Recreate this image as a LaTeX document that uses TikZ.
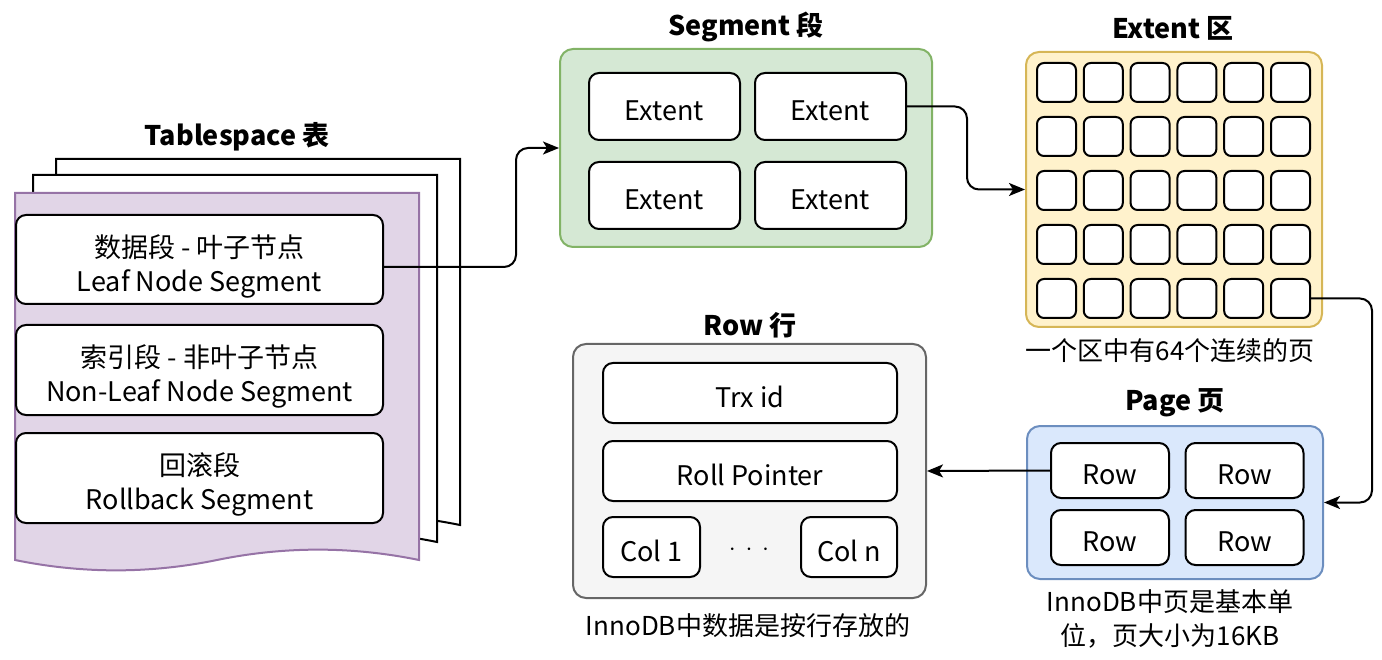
\documentclass[tikz,border=0pt]{standalone}
\usepackage{fontspec}
\setmainfont{Noto Sans CJK SC}
\usetikzlibrary{arrows.meta,calc}
\definecolor{tsfill}{HTML}{E1D5E7}
\definecolor{tsdraw}{HTML}{9673A6}
\definecolor{sgfill}{HTML}{D5E8D4}
\definecolor{sgdraw}{HTML}{82B366}
\definecolor{exfill}{HTML}{FFF2CC}
\definecolor{exdraw}{HTML}{D6B656}
\definecolor{pgfill}{HTML}{DAE8FC}
\definecolor{pgdraw}{HTML}{6C8EBF}
\definecolor{rwfill}{HTML}{F5F5F5}
\definecolor{rwdraw}{HTML}{666666}
\newcommand{\twolines}[2]{\raisebox{-8pt}[\height][\depth]{\begin{tabular}{@{}c@{}}#1\\#2\end{tabular}}}
\newcommand{\lowtext}[1]{\raisebox{-4pt}[\height][\depth]{#1}}
\tikzset{
  x=1pt, y=-1pt,
  box/.style={draw=black, line width=2pt, fill=white, rounded corners=10pt,
    align=center, inner sep=0pt, font=\fontsize{27}{34}\selectfont},
  cell/.style={draw=black, line width=2pt, fill=white, rounded corners=7pt,
    minimum width=39pt, minimum height=39pt, inner sep=0pt},
  group/.style={line width=2pt, rounded corners=13pt, inner sep=0pt},
  title/.style={font=\fontsize{27}{30}\selectfont\bfseries, inner sep=0pt},
  caption/.style={font=\fontsize{26}{34}\selectfont, align=center, inner sep=0pt},
  conn/.style={line width=2pt, rounded corners=12pt,
    -{Stealth[length=16pt,width=13pt,inset=4pt]}},
}
\begin{document}
\begin{tikzpicture}
\useasboundingbox (0,0) rectangle (1382,660);
% Tablespace pages
\draw[line width=2pt, fill=white] (56,159) -- (460,159) -- (460,525)
  .. controls (392.7,511.2) and (325.3,511.2) .. (258,525)
  .. controls (190.7,538.8) and (123.3,538.8) .. (56,525) -- cycle;
\draw[line width=2pt, fill=white] (33,175) -- (437,175) -- (437,542)
  .. controls (369.7,528.2) and (302.3,528.2) .. (235,542)
  .. controls (167.7,555.8) and (100.3,555.8) .. (33,542) -- cycle;
\draw[line width=2pt, draw=tsdraw, fill=tsfill] (15,193) -- (419,193) -- (419,560)
  .. controls (351.7,546.2) and (284.3,546.2) .. (217,560)
  .. controls (149.7,573.8) and (82.3,573.8) .. (15,560) -- cycle;
\node[title] (tstitle) at (237,137) {Tablespace 表};
\node[box, minimum width=367pt, minimum height=89pt] (leaf) at (199.5,259.5)
  {\twolines{数据段 - 叶子节点}{Leaf Node Segment}};
\node[box, minimum width=367pt, minimum height=90pt] (nonleaf) at (199.5,370)
  {\twolines{索引段 - 非叶子节点}{Non-Leaf Node Segment}};
\node[box, minimum width=367pt, minimum height=90pt] (rollback) at (199.5,478)
  {\twolines{回滚段}{Rollback Segment}};
% Segment
\node[title] (sgtitle) at (746,27) {Segment 段};
\node[group, draw=sgdraw, fill=sgfill, minimum width=372pt, minimum height=198pt] (seg) at (746,148) {};
\node[box, minimum width=151pt, minimum height=67pt] (ext1) at (664.5,106.5) {\lowtext{Extent}};
\node[box, minimum width=151pt, minimum height=67pt] (ext2) at (830.5,106.5) {\lowtext{Extent}};
\node[box, minimum width=151pt, minimum height=67pt] (ext3) at (664.5,195.5) {\lowtext{Extent}};
\node[box, minimum width=151pt, minimum height=67pt] (ext4) at (830.5,195.5) {\lowtext{Extent}};
% Extent grid
\node[title] (extitle) at (1173,28) {Extent 区};
\node[group, draw=exdraw, fill=exfill, minimum width=296pt, minimum height=275pt] (grid) at (1174,189.5) {};
\foreach \i in {0,...,5}{
  \foreach \j in {0,...,4}{
    \node[cell] (c\i\j) at ({1056.5+46.8*\i},{82.5+54*\j}) {};
  }
}
\node[caption] (excap) at (1170,351) {一个区中有64个连续的页};
% Page
\node[title] (pgtitle) at (1175,403) {Page 页};
\node[group, draw=pgdraw, fill=pgfill, minimum width=296pt, minimum height=153pt] (page) at (1175,502.5) {};
\node[box, minimum width=118pt, minimum height=55pt] (r1) at (1110,470.5) {\lowtext{Row}};
\node[box, minimum width=118pt, minimum height=55pt] (r2) at (1244.5,470.5) {\lowtext{Row}};
\node[box, minimum width=118pt, minimum height=55pt] (r3) at (1110,537.5) {\lowtext{Row}};
\node[box, minimum width=118pt, minimum height=55pt] (r4) at (1244.5,537.5) {\lowtext{Row}};
\node[caption] (pgcap) at (1170,619) {InnoDB中页是基本单\\位，页大小为16KB};
% Row
\node[title] (rwtitle) at (750,325) {Row 行};
\node[group, draw=rwdraw, fill=rwfill, minimum width=353pt, minimum height=254pt] (rowgrp) at (749.5,471) {};
\node[box, minimum width=294pt, minimum height=60pt] (trx) at (750,393) {\lowtext{Trx id}};
\node[box, minimum width=294pt, minimum height=60pt] (roll) at (750,471) {\lowtext{Roll Pointer}};
\node[box, minimum width=97pt, minimum height=60pt] (col1) at (651.5,547) {\lowtext{Col 1}};
\node[box, minimum width=96pt, minimum height=60pt] (coln) at (849,547) {\lowtext{Col n}};
\node[inner sep=0pt, font=\fontsize{27}{30}\selectfont] (dots) at (749,550) {$\cdot\,\cdot\,\cdot$};
\node[caption] (rwcap) at (748,626) {InnoDB中数据是按行存放的};
% Connectors
\draw[conn] ($(leaf.east)+(0,7.5)$) -| ($(seg.west)+(-43,0)$) -- (seg.west);
\draw[conn] (ext2.east) -- ++(60,0) |- (grid.west);
\draw[conn] (c54.east) -- ++(61,0) |- (page.east);
\draw[conn, rounded corners=0pt] (r1.west) -- (rowgrp.east);
\end{tikzpicture}
\end{document}
